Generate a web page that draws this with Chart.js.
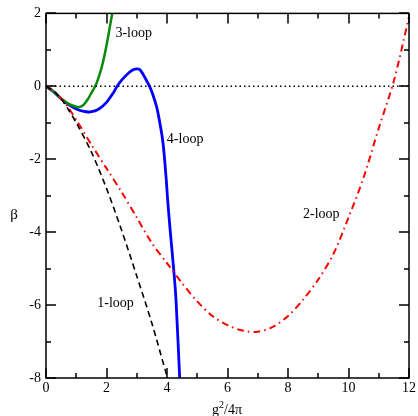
<!DOCTYPE html>
<html>
<head>
<meta charset="utf-8">
<script src="https://cdn.jsdelivr.net/npm/chart.js@4"></script>
<style>
  html, body { margin: 0; padding: 0; background: #fff; }
  #wrap { width: 418px; height: 416px; }
</style>
</head>
<body>
<div id="wrap"><canvas id="myChart" width="418" height="416"></canvas></div>
<script>
// Values
const oneLoopX = [0, 0.25, 0.5, 0.75, 1.0, 1.5, 2.0, 2.5, 3.0, 3.5, 4.0, 4.1];
const oneLoopY = [0, -0.13, -0.35, -0.65, -1.0, -1.8, -2.8, -3.95, -5.2, -6.5, -7.95, -8.2];

const twoLoopX = [0, 0.25, 0.5, 0.75, 1.0, 1.5, 2.0, 2.5, 3.0, 3.5, 4.0, 4.5, 5.0, 5.5, 6.0, 6.5, 7.0, 7.5, 8.0, 8.5, 9.0, 9.5, 10.0, 10.5, 11.0, 11.5, 12.0];
const twoLoopY = [0, -0.12, -0.33, -0.6, -0.92, -1.6, -2.25, -2.9, -3.6, -4.3, -4.85, -5.4, -5.9, -6.3, -6.55, -6.7, -6.73, -6.6, -6.3, -5.85, -5.3, -4.6, -3.6, -2.5, -1.15, 0.15, 1.9];

const threeLoopX = [0, 0.25, 0.5, 0.75, 1.0, 1.1, 1.25, 1.4, 1.5, 1.65, 1.8, 1.9, 2.0, 2.1, 2.2];
const threeLoopY = [0, -0.14, -0.33, -0.48, -0.56, -0.57, -0.5, -0.33, -0.18, 0.04, 0.4, 0.72, 1.12, 1.58, 2.05];

const fourLoopX = [0, 0.25, 0.5, 0.75, 1.0, 1.25, 1.47, 1.75, 2.0, 2.24, 2.35, 2.5, 2.75, 2.9, 3.03, 3.12, 3.25, 3.45, 3.6, 3.69, 3.86, 3.97, 4.02, 4.1, 4.24, 4.3, 4.42, 4.45];
const fourLoopY = [0, -0.15, -0.34, -0.5, -0.62, -0.69, -0.7, -0.62, -0.44, -0.16, 0.0, 0.17, 0.38, 0.46, 0.48, 0.44, 0.27, -0.05, -0.4, -0.68, -1.5, -2.5, -3.1, -3.9, -5.2, -5.9, -8.0, -8.5];

const zeroX = [0, 12];
const zeroY = [0, 0];

const xMin = 0, xMax = 12;
const yMin = -8, yMax = 2;

const curveLabels = ['1-loop', '2-loop', '3-loop', '4-loop'];
const labelX = [2.3, 9.1, 2.9, 4.6];
const labelY = [-5.95, -3.5, 1.45, -1.45];

const serif = '"Liberation Serif", "DejaVu Serif", serif';

function pairs(xs, ys) {
    return xs.map((x, i) => ({ x: x, y: ys[i] }));
}

// Frame, inward ticks and text labels
const decorations = {
    id: 'decorations',
    afterDraw(chart) {
        const ctx = chart.ctx;
        const a = chart.chartArea;
        const xs = chart.scales.x;
        const ys = chart.scales.y;
        ctx.save();
        ctx.strokeStyle = '#000';
        ctx.lineWidth = 1.5;
        ctx.strokeRect(a.left, a.top, a.right - a.left, a.bottom - a.top);

        ctx.beginPath();
        for (let v = xMin; v <= xMax; v++) {
            const len = v % 2 === 0 ? 10 : 5;
            const px = Math.round(xs.getPixelForValue(v));
            ctx.moveTo(px, a.bottom); ctx.lineTo(px, a.bottom - len);
            ctx.moveTo(px, a.top); ctx.lineTo(px, a.top + len);
        }
        for (let v = yMin; v <= yMax; v++) {
            const len = v % 2 === 0 ? 10 : 5;
            const py = Math.round(ys.getPixelForValue(v));
            ctx.moveTo(a.left, py); ctx.lineTo(a.left + len, py);
            ctx.moveTo(a.right, py); ctx.lineTo(a.right - len, py);
        }
        ctx.stroke();

        // curve labels
        ctx.fillStyle = '#000';
        ctx.font = '14px ' + serif;
        ctx.textAlign = 'center';
        ctx.textBaseline = 'middle';
        curveLabels.forEach((t, i) => {
            ctx.fillText(t, xs.getPixelForValue(labelX[i]), ys.getPixelForValue(labelY[i]));
        });

        // y axis title
        ctx.font = '15px ' + serif;
        ctx.fillText('β', 14, 215);

        // x axis title g^2/4pi
        ctx.textAlign = 'left';
        ctx.textBaseline = 'alphabetic';
        ctx.font = '14px ' + serif;
        const gW = ctx.measureText('g').width;
        ctx.font = '10px ' + serif;
        const sW = ctx.measureText('2').width;
        ctx.font = '14px ' + serif;
        const rW = ctx.measureText('/4π').width;
        let x0 = 227 - (gW + sW + rW) / 2;
        const base = 414;
        ctx.fillText('g', x0, base);
        ctx.font = '10px ' + serif;
        ctx.fillText('2', x0 + gW, base - 6);
        ctx.font = '14px ' + serif;
        ctx.fillText('/4π', x0 + gW + sW, base);
        ctx.restore();
    }
};

const ctx = document.getElementById('myChart').getContext('2d');
const myChart = new Chart(ctx, {
    type: 'scatter',
    data: {
        datasets: [
            {
                label: 'zero',
                data: pairs(zeroX, zeroY),
                borderColor: '#000',
                borderWidth: 1.5,
                borderDash: [1.5, 3],
                showLine: true,
                pointRadius: 0
            },
            {
                label: '1-loop',
                data: pairs(oneLoopX, oneLoopY),
                borderColor: '#000',
                borderWidth: 1.6,
                borderDash: [6, 4],
                showLine: true,
                pointRadius: 0,
                tension: 0.3
            },
            {
                label: '2-loop',
                data: pairs(twoLoopX, twoLoopY),
                borderColor: '#ff0000',
                borderWidth: 2,
                borderDash: [7, 4, 1.5, 4],
                showLine: true,
                pointRadius: 0,
                tension: 0.3
            },
            {
                label: '3-loop',
                data: pairs(threeLoopX, threeLoopY),
                borderColor: '#0a8a0a',
                borderWidth: 2.5,
                showLine: true,
                pointRadius: 0,
                tension: 0.3
            },
            {
                label: '4-loop',
                data: pairs(fourLoopX, fourLoopY),
                borderColor: '#0000ff',
                borderWidth: 2.8,
                showLine: true,
                pointRadius: 0,
                tension: 0.3
            }
        ]
    },
    options: {
        responsive: false,
        animation: false,
        layout: { padding: { left: 0, top: 12, right: 7, bottom: 0 } },
        plugins: {
            legend: { display: false },
            tooltip: { enabled: false }
        },
        scales: {
            x: {
                type: 'linear',
                min: xMin,
                max: xMax,
                grid: { display: false, drawTicks: false },
                border: { display: false },
                ticks: {
                    stepSize: 1,
                    autoSkip: false,
                    maxRotation: 0,
                    padding: 2,
                    color: '#000',
                    font: { family: serif, size: 14 },
                    callback: v => (v % 2 === 0 ? String(v) : '')
                },
                afterFit: s => { s.height = 38; }
            },
            y: {
                type: 'linear',
                min: yMin,
                max: yMax,
                grid: { display: false, drawTicks: false },
                border: { display: false },
                ticks: {
                    stepSize: 1,
                    autoSkip: false,
                    padding: 5,
                    color: '#000',
                    font: { family: serif, size: 14 },
                    callback: v => (v % 2 === 0 ? String(v) : '')
                },
                afterFit: s => { s.width = 46; }
            }
        }
    },
    plugins: [decorations]
});
</script>
</body>
</html>
